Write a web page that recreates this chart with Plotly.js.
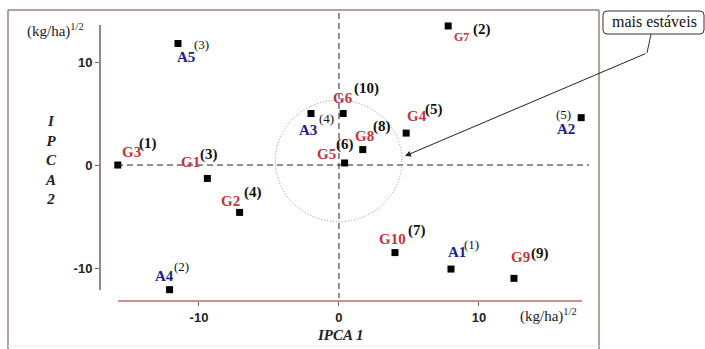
<!DOCTYPE html>
<html>
<head>
<meta charset="utf-8">
<script src="https://cdn.plot.ly/plotly-3.0.1.min.js"></script>
<style>html,body{margin:0;padding:0;background:#fff;}#chart{width:705px;height:349px;}</style>
</head>
<body>
<div id="chart"></div>
<script>
// ---- data ----
var names   = ['A1','A2','A3','A4','A5','G1','G2','G3','G4','G5','G6','G7','G8','G9','G10'];
var ipca1   = [8.0, 17.3, -2.0, -12.1, -11.5, -9.4, -7.1, -15.8, 4.8, 0.4, 0.3, 7.8, 1.7, 12.5, 4.0];
var ipca2   = [-10.1, 4.6, 5.0, -12.1, 11.8, -1.3, -4.6, 0.0, 3.1, 0.2, 5.0, 13.5, 1.5, -11.0, -8.5];
var ranks   = ['(1)','(5)','(4)','(2)','(3)','(3)','(4)','(1)','(5)','(6)','(10)','(2)','(8)','(9)','(7)'];
var xTicks  = [-10, 0, 10];
var xTickText = ['\u201110', '0', '10'];
var yTicks  = [-10, 0, 10];
var yTickText = ['\u201110', '0', '10'];
var circleX = [-4.55, 4.5];
var circleY = [-5.5, 6.3];
var calloutText = 'mais estáveis';

// ---- label offsets in pixels (style) ----
var nameOff = {A1:[6,-17],A2:[-15,11],A3:[-3,16],A4:[-5,-14],A5:[8,14],G1:[-17,-16],G2:[-9,-11],G3:[14,-13],
  G4:[11,-17],G5:[-18,-9],G6:[0,-16],G7:[13,11],G8:[2,-14],G9:[7,-21],G10:[-2,-14]};
var rankOff = {A1:[21,-25],A2:[-18,-3],A3:[16,5],A4:[12,-23],A5:[24,1],G1:[2,-24],G2:[13,-20],G3:[30,-22],
  G4:[28,-24],G5:[0,-18],G6:[23,-25],G7:[34,4],G8:[19,-23],G9:[26,-25],G10:[22,-22]};

var L = 100, T = 10, W = 490, H = 291;
function px(x){ return (x - L) / W; }
function py(y){ return (T + H - y) / H; }

var RED = '#c8323c', BLUE = '#1c1c8c', SERIF = 'Liberation Serif';

var annotations = [];
names.forEach(function(n, i){
  var isG = n.charAt(0) === 'G';
  var no = nameOff[n], ro = rankOff[n];
  annotations.push({x: ipca1[i], y: ipca2[i], xref:'x', yref:'y', text: '<b>'+n+'</b>', showarrow:false,
    xshift: no[0], yshift: -no[1], xanchor:'center', yanchor:'middle',
    font:{family:SERIF, size: n==='G7'?12:15, color: isG?RED:BLUE}});
  annotations.push({x: ipca1[i], y: ipca2[i], xref:'x', yref:'y', text: isG?'<b>'+ranks[i]+'</b>':ranks[i], showarrow:false,
    xshift: ro[0], yshift: -ro[1], xanchor:'center', yanchor:'middle',
    font:{family:SERIF, size: isG?15:13, color:'#111'}});
});

annotations.push({xref:'paper', yref:'paper', x: px(55), y: py(31), text:'(kg/ha)<sup>1/2</sup>', showarrow:false,
  xanchor:'center', yanchor:'middle', font:{family:SERIF, size:15, color:'#222'}});
annotations.push({xref:'paper', yref:'paper', x: px(548), y: py(315), text:'(kg/ha)<sup>1/2</sup>', showarrow:false,
  xanchor:'center', yanchor:'middle', font:{family:SERIF, size:15, color:'#222'}});
annotations.push({xref:'paper', yref:'paper', x: px(340), y: py(335), text:'<b><i>IPCA 1</i></b>', showarrow:false,
  xanchor:'center', yanchor:'middle', font:{family:SERIF, size:15, color:'#222'}});
annotations.push({xref:'paper', yref:'paper', x: px(51), y: py(160), text:'<b><i>I<br>P<br>C<br>A<br>2</i></b>', showarrow:false,
  xanchor:'center', yanchor:'middle', font:{family:SERIF, size:15, color:'#222'}});
annotations.push({xref:'paper', yref:'paper', x: px(654), y: py(22), text: calloutText, showarrow:false,
  xanchor:'center', yanchor:'middle', font:{family:SERIF, size:16, color:'#111'}});
annotations.push({xref:'paper', yref:'paper', x: px(405), y: py(156), text:'', showarrow:true,
  ax: 242, ay: -103, arrowhead:2, arrowsize:1.2, arrowwidth:1, arrowcolor:'#222'});

function rr(x0,y0,x1,y1,r){
  var a=px(x0), b=px(x1), c=py(y0), d=py(y1), rx=r/W, ry=r/H;
  return 'M'+(a+rx)+','+c+' L'+(b-rx)+','+c+' Q'+b+','+c+' '+b+','+(c-ry)+' L'+b+','+(d+ry)+' Q'+b+','+d+' '+(b-rx)+','+d+
    ' L'+(a+rx)+','+d+' Q'+a+','+d+' '+a+','+(d+ry)+' L'+a+','+(c-ry)+' Q'+a+','+c+' '+(a+rx)+','+c+' Z';
}

var BOX = '#9c807b';
var shapes = [
  {type:'line', xref:'paper', yref:'paper', x0:px(8), x1:px(8), y0:py(10), y1:py(349), line:{color:BOX, width:1.5}},
  {type:'line', xref:'paper', yref:'paper', x0:px(8), x1:px(599), y0:py(10), y1:py(10), line:{color:BOX, width:1.5}},
  {type:'line', xref:'paper', yref:'paper', x0:px(599), x1:px(599), y0:py(10), y1:py(349), line:{color:BOX, width:1.5}},
  {type:'line', xref:'paper', yref:'paper', x0:px(8), x1:px(599), y0:py(346), y1:py(346), line:{color:'#e3e8f0', width:1}},
  {type:'line', xref:'paper', yref:'paper', x0:px(100), x1:px(100), y0:py(25), y1:py(290), line:{color:'#7d5c57', width:1.5}},
  {type:'line', xref:'paper', yref:'paper', x0:px(118), x1:px(582), y0:py(301), y1:py(301), line:{color:'#b86a6a', width:1.5}},
  {type:'line', xref:'paper', yref:'y', x0:px(117), x1:px(589), y0:0, y1:0, line:{color:'#222', width:1, dash:'6px,4px'}},
  {type:'line', xref:'x', yref:'paper', x0:0, x1:0, y0:py(13), y1:py(298), line:{color:'#222', width:1, dash:'6px,4px'}},
  {type:'circle', xref:'x', yref:'y', x0:circleX[0], x1:circleX[1], y0:circleY[0], y1:circleY[1], line:{color:'#8a8a8a', width:1, dash:'1px,2px'}},
  {type:'path', xref:'paper', yref:'paper', path: rr(603,11,704,34,4), line:{color:'#333', width:1}},
  {type:'path', xref:'paper', yref:'paper', path: 'M'+px(651)+','+py(34)+' L'+px(647)+','+py(53), line:{color:'#333', width:1}}
];

var trace = {x: ipca1, y: ipca2, mode:'markers', type:'scatter', text: names, hoverinfo:'text',
  marker:{symbol:'square', size:7, color:'#000'}, cliponaxis:false};

var layout = {
  width:705, height:349, margin:{l:L, r:705-L-W, t:T, b:349-T-H},
  paper_bgcolor:'#fff', plot_bgcolor:'rgba(0,0,0,0)', showlegend:false,
  xaxis:{range:[-17.07, 17.93], showgrid:false, zeroline:false, showline:false, ticks:'outside', ticklen:4, tickcolor:'#666',
    tickvals:xTicks, ticktext:xTickText, tickfont:{family:'Liberation Sans', size:13, color:'#222', weight:'bold'}, fixedrange:true},
  yaxis:{range:[-13.2, 15.05], showgrid:false, zeroline:false, showline:false, ticks:'outside', ticklen:4, tickcolor:'#666',
    tickvals:yTicks, ticktext:yTickText, tickfont:{family:'Liberation Sans', size:13, color:'#222', weight:'bold'}, fixedrange:true},
  shapes: shapes, annotations: annotations
};

Plotly.newPlot('chart', [trace], layout, {displayModeBar:false, staticPlot:true});
</script>
</body>
</html>
